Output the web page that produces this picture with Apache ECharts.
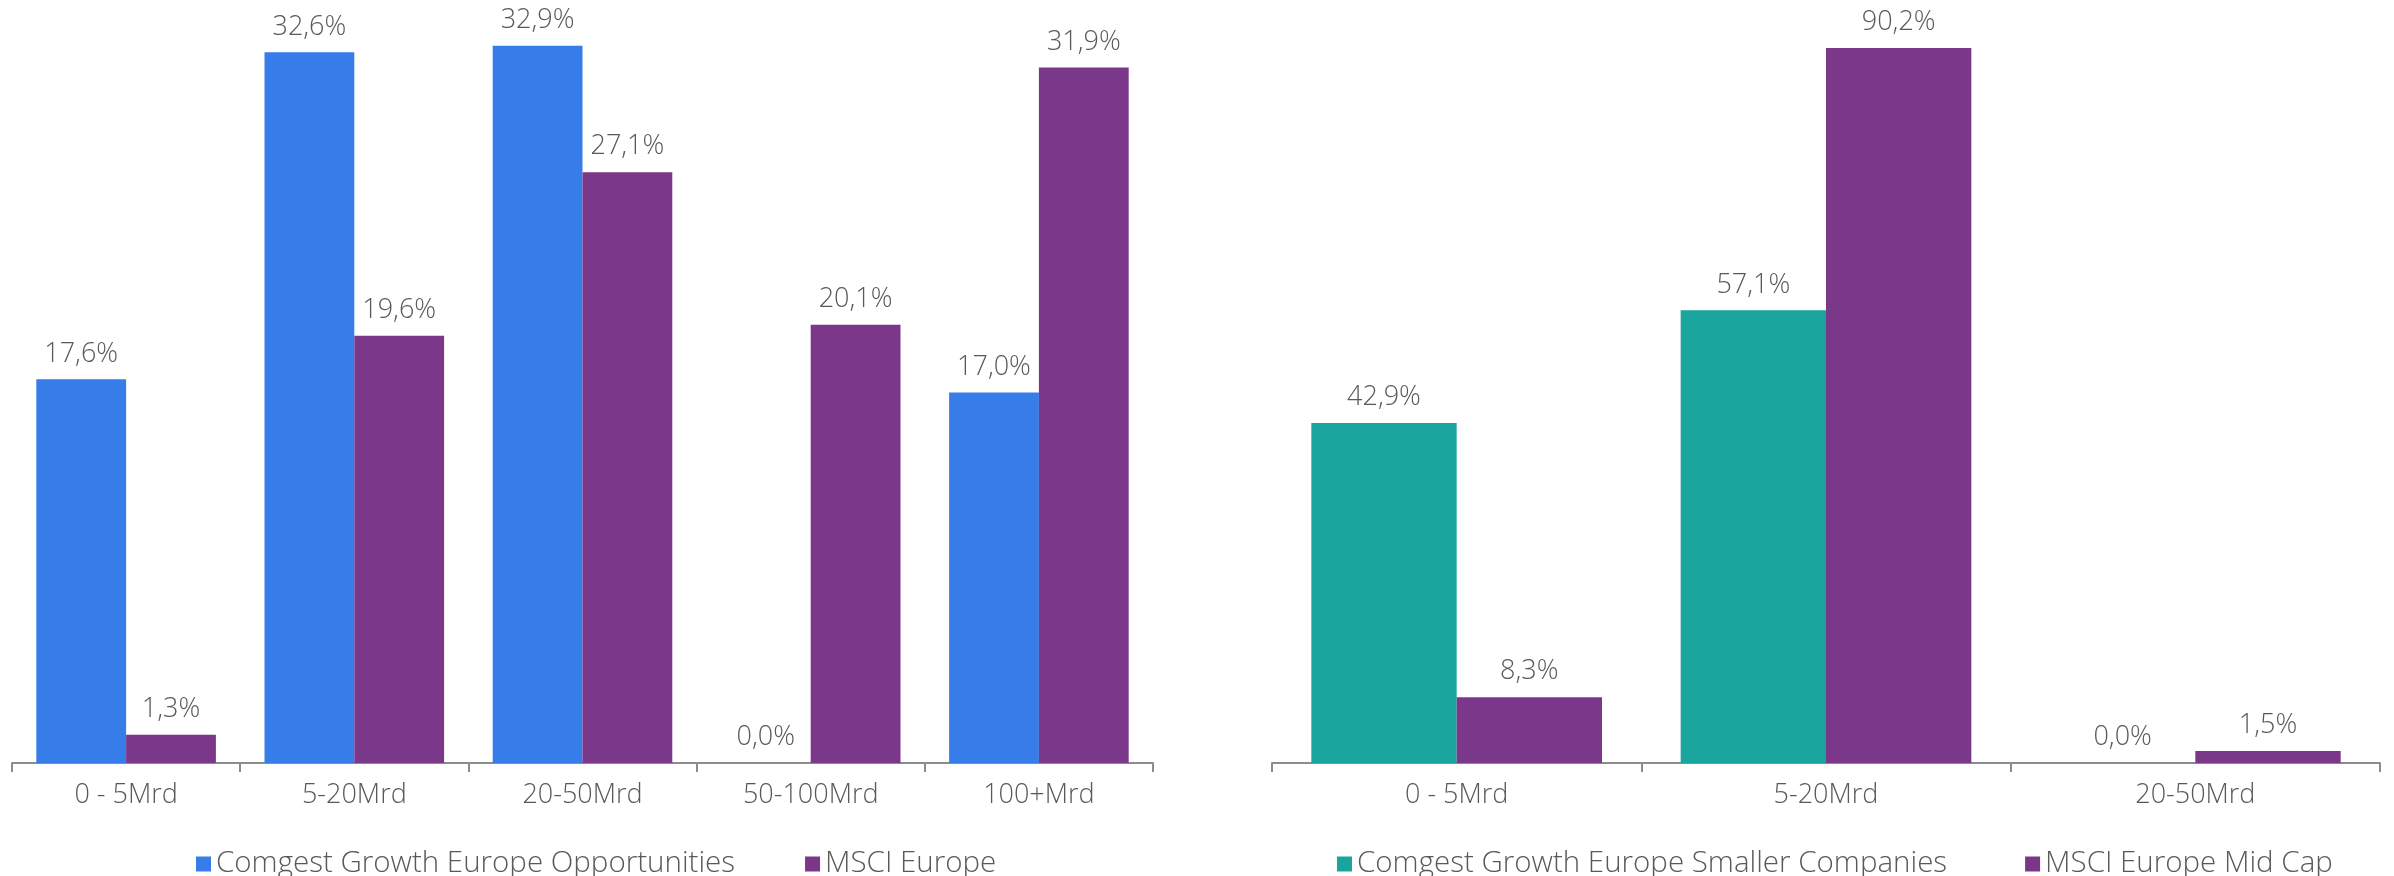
<!DOCTYPE html>
<html>
<head>
<meta charset="utf-8">
<title>Marktkapitalisierung</title>
<script src="https://cdn.jsdelivr.net/npm/echarts@6/dist/echarts.min.js"></script>
<style>
  html, body { margin: 0; padding: 0; background: #fff; }
  #main { width: 2394px; height: 876px; }
</style>
</head>
<body>
<div id="main"></div>
<script>
// Marktkapitalisierung – Fonds vs. Index
var categoriesLeft = ['0 - 5Mrd', '5-20Mrd', '20-50Mrd', '50-100Mrd', '100+Mrd']
var fundLeft = [17.6, 32.6, 32.9, 0.0, 17.0]
var indexLeft = [1.3, 19.6, 27.1, 20.1, 31.9]

var categoriesRight = ['0 - 5Mrd', '5-20Mrd', '20-50Mrd']
var fundRight = [42.9, 57.1, 0.0]
var indexRight = [8.3, 90.2, 1.5]

var namesLeft = ['Comgest Growth Europe Opportunities', 'MSCI Europe']
var namesRight = ['Comgest Growth Europe Smaller Companies', 'MSCI Europe Mid Cap']

var FONT = 'Open Sans'
var TEXT = '#595959'

function pct (p) {
  return p.value.toFixed(1).replace('.', ',') + '%'
}

function xAxis (idx, data) {
  return {
    type: 'category',
    gridIndex: idx,
    data: data,
    axisLine: { lineStyle: { color: '#8c8c8c', width: 2 } },
    axisTick: { show: true, length: 9, lineStyle: { color: '#8c8c8c', width: 2 } },
    axisLabel: { color: TEXT, fontFamily: FONT, fontWeight: 300, fontSize: 27, margin: 19, lineHeight: 27 },
    splitLine: { show: false }
  }
}

function yAxis (idx, max) {
  return { type: 'value', gridIndex: idx, min: 0, max: max, show: false, splitLine: { show: false } }
}

function bars (name, data, color, idx) {
  return {
    name: name,
    type: 'bar',
    xAxisIndex: idx,
    yAxisIndex: idx,
    data: data,
    barGap: 0,
    barCategoryGap: '21.3%',
    itemStyle: { color: color },
    label: {
      show: true,
      position: 'top',
      distance: 12,
      color: TEXT,
      fontFamily: FONT,
      fontWeight: 300,
      fontSize: 27,
      lineHeight: 27,
      formatter: pct
    }
  }
}

var legendText = { color: TEXT, fontFamily: FONT, fontWeight: 300, fontSize: 29.5, lineHeight: 29 }

var myChart = echarts.init(document.getElementById('main'))
myChart.setOption({
  animation: false,
  backgroundColor: '#ffffff',
  grid: [
    { left: 12, width: 1141, top: 0, height: 763 },
    { left: 1272, width: 1108, top: 0, height: 763 }
  ],
  xAxis: [xAxis(0, categoriesLeft), xAxis(1, categoriesRight)],
  yAxis: [yAxis(0, 35), yAxis(1, 96.25)],
  legend: [
    {
      data: namesLeft,
      left: 191,
      top: 844,
      icon: 'rect',
      itemWidth: 15,
      itemHeight: 15,
      itemGap: 70,
      textStyle: legendText
    },
    {
      data: namesRight,
      left: 1332,
      top: 844,
      icon: 'rect',
      itemWidth: 15,
      itemHeight: 15,
      itemGap: 78,
      textStyle: legendText
    }
  ],
  series: [
    bars(namesLeft[0], fundLeft, '#367DE9', 0),
    bars(namesLeft[1], indexLeft, '#7B378A', 0),
    bars(namesRight[0], fundRight, '#1AA49E', 1),
    bars(namesRight[1], indexRight, '#7B378A', 1)
  ]
})
</script>
</body>
</html>
